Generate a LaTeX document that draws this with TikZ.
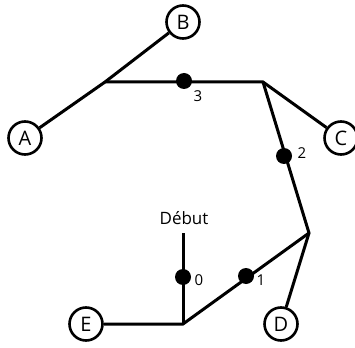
\documentclass[tikz,border=0pt]{standalone}
\usepackage{fontspec}
\setmainfont{Open Sans}
\begin{document}
\begin{tikzpicture}[x=1pt,y=-1pt,
  edge/.style={line width=3pt},
  station/.style={circle,draw,line width=2.6pt,minimum size=33pt,inner sep=0pt,font=\fontsize{20}{20}\selectfont,fill=white},
  stop/.style={circle,fill=black,minimum size=16pt,inner sep=0pt},
  num/.style={font=\fontsize{15}{15}\selectfont,inner sep=0pt}]
\useasboundingbox (0,0) rectangle (355,347);
\coordinate (j1) at (105,82);
\coordinate (j2) at (263,82);
\coordinate (j3) at (309,233);
\coordinate (j4) at (183,324);
\coordinate (top) at (183,233);
\node[station] (B) at (183,22) {B};
\node[station] (A) at (25,138) {A};
\node[station] (C) at (341,138) {C};
\node[station] (E) at (86,324) {E};
\node[station] (D) at (281,324) {D};
\draw[edge] (A) -- (j1) -- (B);
\draw[edge] (j1) -- (j2) -- (C);
\draw[edge] (j2) -- (j3) -- (D);
\draw[edge] (j3) -- (j4) -- (E);
\draw[edge] (j4) -- (top);
\node[stop] (s3) at (184,81) {};
\node[stop] (s2) at (284,156) {};
\node[stop] (s1) at (246,276) {};
\node[stop] (s0) at (183,277) {};
\node[num] (l3) at (198,96) {3};
\node[num] (l2) at (302,153) {2};
\node[num] (l1) at (261,280) {1};
\node[num] (l0) at (199,280) {0};
\node[font=\fontsize{17}{17}\selectfont,inner sep=0pt] (deb) at (184,218) {Début};
\end{tikzpicture}
\end{document}
